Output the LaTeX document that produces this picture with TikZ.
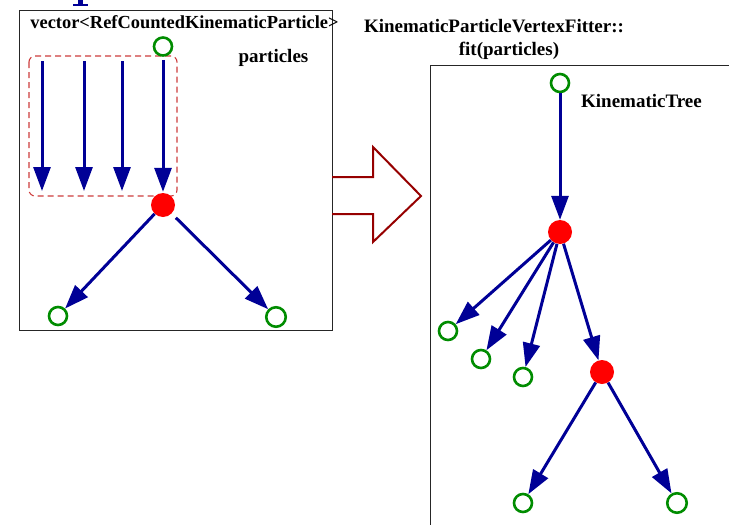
\documentclass[tikz,border=0pt]{standalone}
\usepackage{fontspec}
\setmainfont{Liberation Serif}
\usetikzlibrary{arrows.meta}
\definecolor{arrowblue}{RGB}{0,0,150}
\definecolor{leafgreen}{RGB}{0,140,0}
\definecolor{bigred}{RGB}{150,0,0}
\definecolor{dashred}{RGB}{205,60,60}
\tikzset{
  leaf/.style={circle, draw=leafgreen, line width=2.6pt, minimum size=18pt, inner sep=0pt},
  vtx/.style={circle, fill=red, minimum size=24pt, inner sep=0pt},
  flow/.style={draw=arrowblue, line width=3pt, -{Triangle[length=24pt,width=17pt]}},
  frame/.style={draw=black!85, line width=1pt},
  lbl/.style={font=\fontsize{19}{22}\selectfont\bfseries, anchor=base, inner sep=0pt}
}
\begin{document}
\begin{tikzpicture}[x=1pt,y=-1pt]
\useasboundingbox (0,0) rectangle (729,525);
% fragment of a heading above the left frame
\fill[arrowblue] (78,-1) rectangle (83,4);
\fill[arrowblue] (72.5,3.5) rectangle (88,6);

% left frame: the input particles
\draw[frame] (19,10) rectangle (332,330);
\node[lbl, font=\fontsize{18.4}{22}\selectfont\bfseries] (vec) at (184.5,28) {vector<RefCountedKinematicParticle>};
\node[lbl] (parts) at (273.5,62) {particles};
\draw[dashred, line width=1.1pt, dash pattern=on 6pt off 4pt, rounded corners=6pt] (29,56) rectangle (177,196);

\node[leaf] (p0) at (163,46.5) {};
\node[vtx] (v0) at (163,205) {};
\node[leaf] (l1) at (58,316) {};
\node[leaf, minimum size=19.5pt] (l2) at (276,317) {};
\coordinate (s1) at (42,61);  \coordinate (e1) at (42,191);
\coordinate (s2) at (84,61);  \coordinate (e2) at (84,191);
\coordinate (s3) at (122,61); \coordinate (e3) at (122,191);
\draw[flow] (s1) -- (e1);
\draw[flow] (s2) -- (e2);
\draw[flow] (s3) -- (e3);
\draw[flow, shorten <=3pt, shorten >=1pt] (p0) -- (v0);
\draw[flow] (v0) -- (l1);
\draw[flow, shorten <=6pt] (v0) -- (l2);

% hollow arrow between the frames
\draw[bigred, line width=2pt, line join=miter]
  (332,177) -- (373,177) -- (373,147) -- (421,196) -- (373,242) -- (373,214) -- (332,214);

% right frame: the resulting tree
\node[lbl] (fitter) at (494,32) {KinematicParticleVertexFitter::};
\node[lbl] (fitcall) at (509,55) {fit(particles)};
\draw[frame] (430,540) -- (430,65) -- (740,65);
\node[lbl] (tree) at (641.5,107) {KinematicTree};

\node[leaf] (t0) at (560,83) {};
\node[vtx] (t1) at (560,232) {};
\node[vtx] (t2) at (602,372) {};
\node[leaf] (a1) at (448,331) {};
\node[leaf] (a2) at (481,359) {};
\node[leaf] (a3) at (523,377) {};
\node[leaf] (b1) at (523,503) {};
\node[leaf, minimum size=19.5pt] (b2) at (677,503) {};
\draw[flow] (t0) -- (t1);
\draw[flow] (t1) -- (a1);
\draw[flow] (t1) -- (a2);
\draw[flow] (t1) -- (a3);
\draw[flow] (t1) -- (t2);
\draw[flow] (t2) -- (b1);
\draw[flow] (t2) -- (b2);
\end{tikzpicture}
\end{document}
